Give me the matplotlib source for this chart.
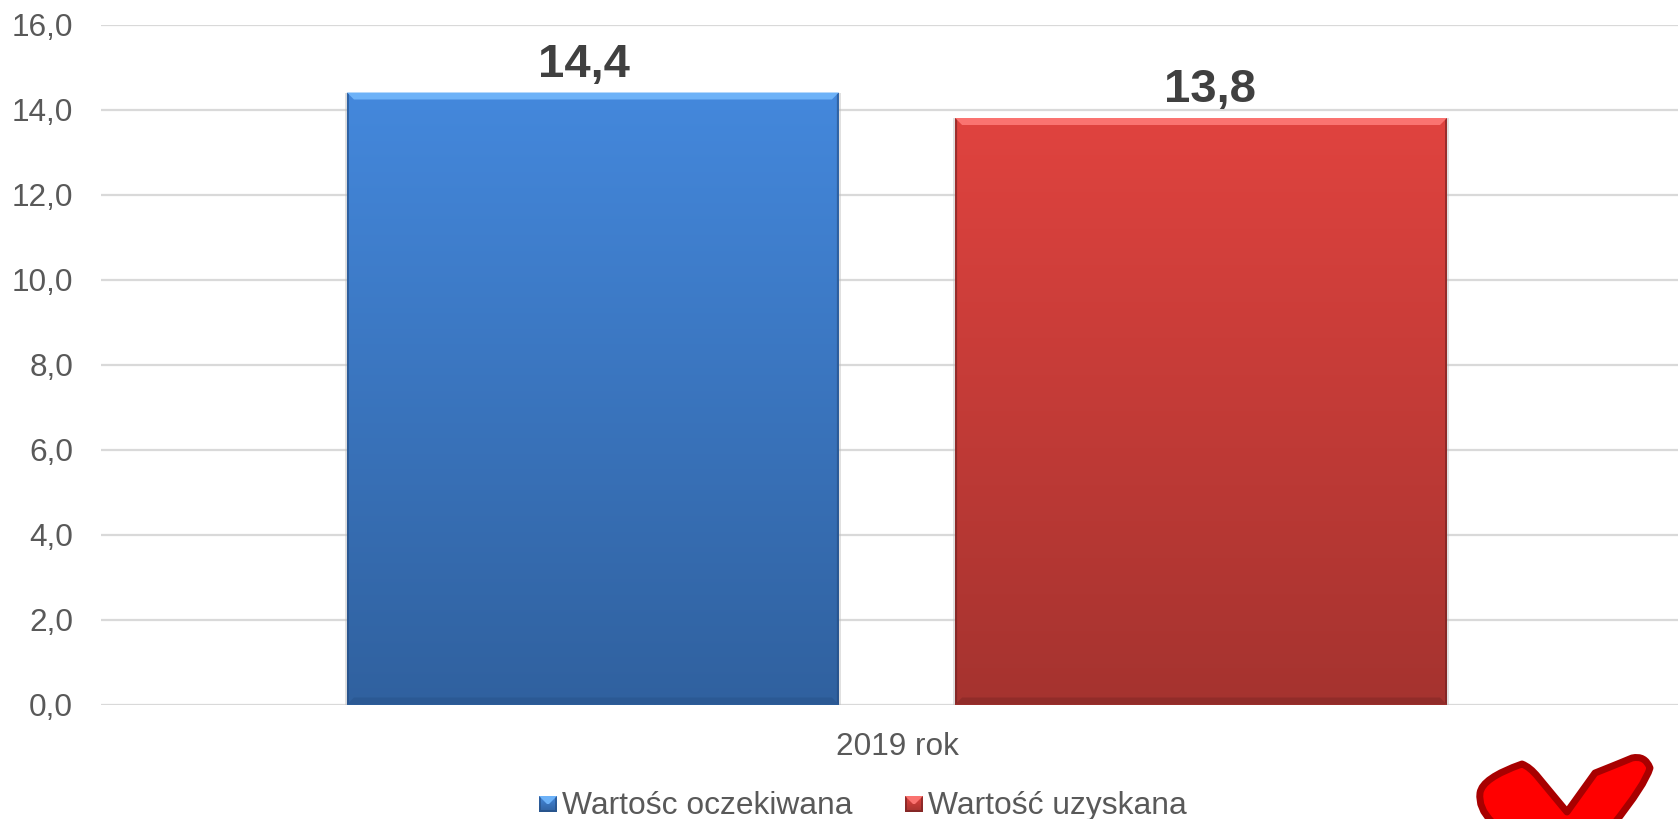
import numpy as np
import matplotlib
matplotlib.use('Agg')
import matplotlib.pyplot as plt
from matplotlib.colors import LinearSegmentedColormap
from matplotlib.patches import Polygon, PathPatch, Rectangle
from matplotlib.path import Path
from matplotlib.transforms import Affine2D

plt.rcParams['font.family'] = ['Liberation Sans', 'DejaVu Sans']

# Data
category = '2019 rok'
series_names = ['Wartośc oczekiwana', 'Wartość uzyskana']
series_values = [14.4, 13.8]
value_labels = ['14,4', '13,8']
y_ticks = [0, 2, 4, 6, 8, 10, 12, 14, 16]
y_tick_labels = ['0,0', '2,0', '4,0', '6,0', '8,0', '10,0', '12,0', '14,0', '16,0']

# Colours of each bar: top, bottom, highlight, dark edge
bar_colors = [('#4488DC', '#30619F', '#6DB2F8', '#234B80'),
              ('#E0433F', '#A5332F', '#FA7370', '#6E2020')]

W, H = 1678, 819
fig = plt.figure(figsize=(W / 100, H / 100), dpi=100)
ax = fig.add_axes([101 / W, 1 - 704.5 / H, (W - 101) / W, (704.5 - 24.5) / H])
ax.set_ylim(0, 16)
ax.set_xlim(-0.5, 0.4906)
px_x = (ax.get_xlim()[1] - ax.get_xlim()[0]) / (W - 101)
px_y = 16 / (704.5 - 24.5)


def bevel_bar(a, x0, x1, y0, y1, cols, dx, dy, bev=7, low_bev=7, bottom_alpha=0.35):
    top, bottom, light, dark = cols
    cmap = LinearSegmentedColormap.from_list('g', [top, bottom])
    grad = np.linspace(0, 1, 256).reshape(-1, 1)
    a.imshow(grad, cmap=cmap, extent=[x0, x1, y0, y1], aspect='auto', zorder=3)
    b_x = bev * dx
    b_y = bev * dy
    # top highlight
    a.add_patch(Polygon([(x0, y1), (x1, y1), (x1 - b_x, y1 - b_y), (x0 + b_x, y1 - b_y)],
                        fc=light, ec='none', zorder=4))
    # dark bottom edge
    l_x = low_bev * dx
    l_y = low_bev * dy
    a.add_patch(Polygon([(x0, y0), (x1, y0), (x1 - l_x, y0 + l_y), (x0 + l_x, y0 + l_y)],
                        fc=dark, ec='none', alpha=bottom_alpha, zorder=4))
    # thin side edges
    side = 2 * dx
    for xa, xb in [(x0, x0 + side), (x1, x1 - side)]:
        a.add_patch(Polygon([(xa, y0), (xa, y1), (xb, y1 - 2 * dy), (xb, y0 + 2 * dy)],
                            fc=dark, ec='none', alpha=0.6, zorder=4))


ax.set_axisbelow(True)
ax.grid(axis='y', color='#D9D9D9', lw=1.6)
ax.set_yticks(y_ticks)
ax.set_yticklabels(y_tick_labels, fontsize=22.7, color='#595959')
ax.tick_params(axis='y', length=0, pad=20)
ax.set_xticks([0])
ax.set_xticklabels([category], fontsize=22.7, color='#595959')
ax.tick_params(axis='x', length=0, pad=20)
for s in ax.spines.values():
    s.set_visible(False)

# Bar geometry from the grouped layout
bar_width = 0.309
offsets = [-0.191, 0.191]
label_shift = [-9, 9]
for i in range(2):
    x0 = offsets[i] - bar_width / 2
    x1 = offsets[i] + bar_width / 2
    # soft shadow around the bar
    ax.add_patch(Rectangle((x0 - 2 * px_x, -3 * px_y), bar_width + 4 * px_x,
                           series_values[i] + 3 * px_y, fc='#BBBBBB', ec='none', alpha=0.45, zorder=2))
    bevel_bar(ax, x0, x1, 0, series_values[i], bar_colors[i], px_x, px_y)
    ax.text(offsets[i] + label_shift[i] * px_x, series_values[i] + 6 * px_y, value_labels[i],
            ha='center', va='bottom', fontsize=34, fontweight='bold', color='#404040', zorder=5)
ax.set_xlim(-0.5, 0.4906)
ax.set_ylim(0, 16)

# Legend drawn in pixel coordinates of the figure
key_x = [539, 905]
text_x = [562, 928]
for i in range(2):
    kax = fig.add_axes([key_x[i] / W, 1 - 812 / H, 18 / W, 16 / H])
    kax.axis('off')
    bevel_bar(kax, 0, 1, 0, 1, bar_colors[i], 1 / 18, 1 / 16, bev=8, low_bev=2, bottom_alpha=0.6)
    kax.set_xlim(0, 1)
    kax.set_ylim(0, 1)
    fig.text(text_x[i] / W, 1 - 806 / H, series_names[i], fontsize=22.9, color='#595959',
             ha='left', va='center')

# Hand drawn heart at the bottom right, cut by the edge of the image
to_fig = Affine2D().scale(1 / W, -1 / H).translate(0, 1) + fig.transFigure
heart_verts = [(1495, 845), (1492, 822),
               (1478, 808), (1480, 793),
               (1482, 778), (1522, 764),
               (1530, 767), (1538, 777),
               (1567, 812), (1595, 773), (1610, 767),
               (1620, 763), (1632, 758),
               (1645, 755), (1650, 768),
               (1645, 785), (1613, 825),
               (1600, 845)]
heart_codes = [Path.MOVETO, Path.LINETO,
               Path.CURVE3, Path.CURVE3,
               Path.CURVE3, Path.CURVE3,
               Path.CURVE3, Path.CURVE3,
               Path.LINETO, Path.LINETO, Path.LINETO,
               Path.CURVE3, Path.CURVE3,
               Path.CURVE3, Path.CURVE3,
               Path.CURVE3, Path.CURVE3,
               Path.LINETO]
heart = PathPatch(Path(heart_verts, heart_codes), fc='#FF0000', ec='#A80000', lw=5,
                  joinstyle='round', transform=to_fig, clip_on=False)
fig.add_artist(heart)

fig.savefig('out.png', dpi=100)
